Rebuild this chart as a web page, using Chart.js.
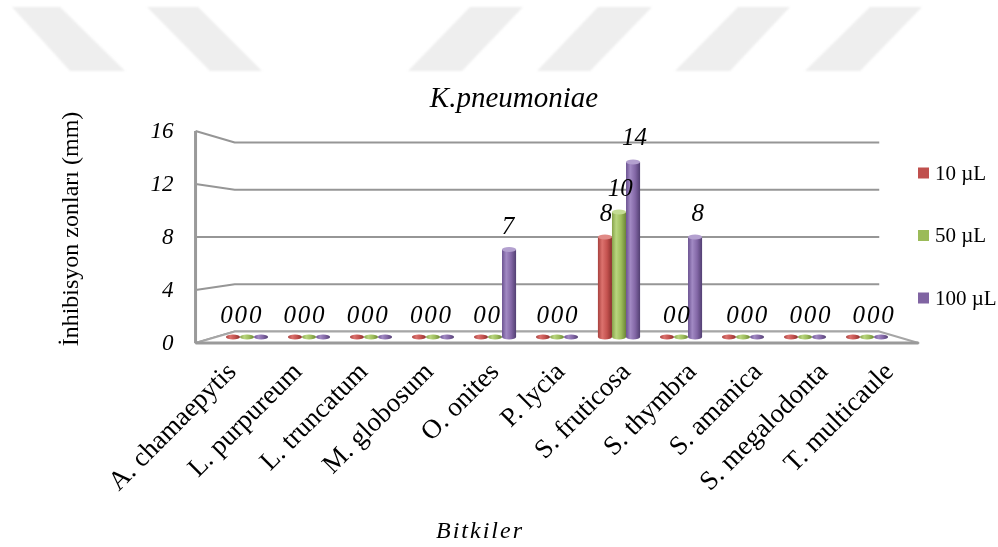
<!DOCTYPE html>
<html>
<head>
<meta charset="utf-8">
<script src="https://cdn.jsdelivr.net/npm/chart.js@4/dist/chart.umd.min.js"></script>
<style>
  html, body { margin: 0; padding: 0; background: #fff; }
  canvas { display: block; }
</style>
</head>
<body>
<canvas id="chart" width="998" height="547"></canvas>
<script>
// Plant extracts and inhibition zone diameters (mm) against K. pneumoniae
const categories = ['A. chamaepytis', 'L. purpureum', 'L. truncatum', 'M. globosum', 'O. onites',
  'P. lycia', 'S. fruticosa', 'S. thymbra', 'S. amanica', 'S. megalodonta', 'T. multicaule'];
const dose10 = [0, 0, 0, 0, 0, 0, 8, 0, 0, 0, 0];
const dose50 = [0, 0, 0, 0, 0, 0, 10, 0, 0, 0, 0];
const dose100 = [0, 0, 0, 0, 7, 0, 14, 8, 0, 0, 0];
const seriesNames = ['10 µL', '50 µL', '100 µL'];
const yTickStep = 4;
const yMax = 16;

const chartTitle = 'K.pneumoniae';
const yTitle = 'İnhibisyon zonları (mm)';
const xTitle = 'Bitkiler';

const SERIF = '"Liberation Serif", "Times New Roman", serif';
const COLORS = ['#c0504d', '#9bbb59', '#8064a2'];
// cylinder shading: [left edge, highlight, body, right edge, top cap]
const SHADES = [
  ['#a8403d', '#dc726e', '#c4524f', '#8a302d', '#e08a86'],
  ['#86a24a', '#b9d67f', '#9dbd5b', '#6b8536', '#c4dc94'],
  ['#6a5190', '#a28ac4', '#8367a6', '#523f72', '#b3a0cf']
];

// depth factors of the pseudo-3D box: front edge, back wall, value labels
const FRONT = 1.06, BACK = 0.945, LABEL_DEPTH = 1.02;

function project(area, x, y, f) {
  const cx = (area.left + area.right) / 2;
  const cy = (area.top + area.bottom) / 2;
  return [cx + (x - cx) * f, cy + (y - cy) * f];
}

function drawWatermark(ctx) {
  // faint diagonal band pattern across the top of the page
  const bands = [
    [12, 60, 70, 125], [147, 198, 210, 262],
    [470, 523, 408, 462], [598, 652, 537, 590],
    [738, 790, 675, 730], [870, 922, 805, 860]
  ];
  ctx.save();
  ctx.filter = 'blur(1px)';
  ctx.fillStyle = '#eeeeee';
  bands.forEach(([t0, t1, b0, b1]) => {
    ctx.beginPath();
    ctx.moveTo(t0, 7); ctx.lineTo(t1, 7); ctx.lineTo(b1, 71); ctx.lineTo(b0, 71);
    ctx.closePath(); ctx.fill();
  });
  ctx.restore();
}

const scenePlugin = {
  id: 'scene',
  beforeDraw(chart) {
    const { ctx, chartArea: a } = chart;
    const xs = chart.scales.x, ys = chart.scales.y;
    ctx.save();
    ctx.fillStyle = '#ffffff';
    ctx.fillRect(0, 0, chart.width, chart.height);
    drawWatermark(ctx);

    // side wall + back wall grid lines
    ctx.strokeStyle = '#969696';
    ctx.lineWidth = 2;
    ctx.lineJoin = 'round';
    ys.ticks.forEach(t => {
      const py = ys.getPixelForValue(t.value);
      const f0 = project(a, a.left, py, FRONT);
      const b0 = project(a, a.left, py, BACK);
      const b1 = project(a, a.right, py, BACK);
      ctx.beginPath();
      ctx.moveTo(f0[0], f0[1]); ctx.lineTo(b0[0], b0[1]); ctx.lineTo(b1[0], b1[1]);
      ctx.stroke();
    });

    // floor
    const y0 = ys.getPixelForValue(0);
    const fl = project(a, a.left, y0, FRONT), fr = project(a, a.right, y0, FRONT);
    const br = project(a, a.right, y0, BACK), bl = project(a, a.left, y0, BACK);
    ctx.beginPath();
    ctx.moveTo(fl[0], fl[1]); ctx.lineTo(fr[0], fr[1]); ctx.lineTo(br[0], br[1]); ctx.lineTo(bl[0], bl[1]);
    ctx.closePath();
    ctx.fillStyle = '#ffffff';
    ctx.fill();
    ctx.strokeStyle = '#a6a6a6';
    ctx.lineWidth = 2;
    ctx.stroke();
    ctx.beginPath();
    ctx.moveTo(fl[0], fl[1]); ctx.lineTo(fr[0], fr[1]);
    ctx.strokeStyle = '#9a9a9a';
    ctx.lineWidth = 3;
    ctx.stroke();

    // front vertical axis line
    const top = project(a, a.left, ys.getPixelForValue(ys.max), FRONT);
    ctx.beginPath();
    ctx.moveTo(top[0], top[1]); ctx.lineTo(fl[0], fl[1]);
    ctx.strokeStyle = '#9a9a9a';
    ctx.lineWidth = 3;
    ctx.stroke();

    // y tick labels
    ctx.fillStyle = '#000';
    ctx.font = 'italic 23px ' + SERIF;
    ctx.textAlign = 'right';
    ctx.textBaseline = 'middle';
    ys.ticks.forEach(t => {
      const p = project(a, a.left, ys.getPixelForValue(t.value), FRONT);
      ctx.fillText(String(t.value), p[0] - 22, p[1] + 1);
    });

    // category labels along the front edge
    ctx.font = '27px ' + SERIF;
    ctx.textAlign = 'right';
    ctx.textBaseline = 'alphabetic';
    chart.data.labels.forEach((lab, i) => {
      const p = project(a, xs.getPixelForValue(i), y0, FRONT);
      ctx.save();
      ctx.translate(p[0] + 9, p[1] + 30);
      ctx.rotate(-Math.PI / 4);
      ctx.fillText(lab, 0, 0);
      ctx.restore();
    });

    // chart title
    ctx.textAlign = 'center';
    ctx.font = 'italic 29px ' + SERIF;
    ctx.fillText(chartTitle, 514, 107);

    // y axis title
    ctx.save();
    ctx.translate(72, 229);
    ctx.rotate(-Math.PI / 2);
    ctx.font = '24px ' + SERIF;
    ctx.textBaseline = 'middle';
    ctx.fillText(yTitle, 0, 0);
    ctx.restore();

    // x axis title
    ctx.save();
    ctx.font = 'italic 24px ' + SERIF;
    ctx.letterSpacing = '2px';
    ctx.textAlign = 'center';
    ctx.fillText(xTitle, 480, 538);
    ctx.restore();

    // legend
    ctx.font = '21px ' + SERIF;
    ctx.textAlign = 'left';
    ctx.textBaseline = 'middle';
    chart.data.datasets.forEach((ds, i) => {
      const cy = 173 + i * 62.5;
      ctx.fillStyle = ds.backgroundColor;
      ctx.fillRect(918, cy - 5.5, 11, 11);
      ctx.fillStyle = '#000';
      ctx.fillText(ds.label, 935, cy + 1);
    });
    ctx.restore();
  },
  beforeDatasetDraw() {
    return false;
  },
  afterDatasetsDraw(chart) {
    const { ctx, chartArea: a } = chart;
    ctx.save();
    chart.data.datasets.forEach((ds, i) => {
      const meta = chart.getDatasetMeta(i);
      const sh = SHADES[i];
      meta.data.forEach((el, j) => {
        const w = el.width, l = el.x - w / 2, r = el.x + w / 2;
        const ry = 2.5;
        const g = ctx.createLinearGradient(l, 0, r, 0);
        g.addColorStop(0, sh[0]);
        g.addColorStop(0.3, sh[1]);
        g.addColorStop(0.65, sh[2]);
        g.addColorStop(1, sh[3]);
        if (ds.data[j] > 0) {
          ctx.fillStyle = g;
          ctx.beginPath();
          ctx.moveTo(l, el.y);
          ctx.lineTo(l, el.base);
          ctx.ellipse(el.x, el.base, w / 2, ry, 0, Math.PI, 0, true);
          ctx.lineTo(r, el.y);
          ctx.closePath();
          ctx.fill();
          ctx.beginPath();
          ctx.ellipse(el.x, el.y, w / 2, ry, 0, 0, Math.PI * 2);
          ctx.fillStyle = sh[4];
          ctx.fill();
        } else {
          ctx.beginPath();
          ctx.ellipse(el.x, el.base, w / 2, ry, 0, 0, Math.PI * 2);
          ctx.fillStyle = g;
          ctx.fill();
        }
      });
    });

    // value labels
    ctx.fillStyle = '#000';
    ctx.font = 'italic 25px ' + SERIF;
    ctx.textAlign = 'center';
    ctx.textBaseline = 'alphabetic';
    chart.data.datasets.forEach((ds, i) => {
      const meta = chart.getDatasetMeta(i);
      meta.data.forEach((el, j) => {
        const p = project(a, el.x, el.y, LABEL_DEPTH);
        ctx.fillText(String(ds.data[j]), p[0], p[1] - 16);
      });
    });
    ctx.restore();
  }
};

new Chart(document.getElementById('chart'), {
  type: 'bar',
  data: {
    labels: categories,
    datasets: [
      { label: seriesNames[0], data: dose10, backgroundColor: COLORS[0] },
      { label: seriesNames[1], data: dose50, backgroundColor: COLORS[1] },
      { label: seriesNames[2], data: dose100, backgroundColor: COLORS[2] }
    ]
  },
  options: {
    responsive: false,
    animation: false,
    devicePixelRatio: 1,
    layout: { padding: { left: 216, right: 100, top: 137, bottom: 210 } },
    datasets: { bar: { categoryPercentage: 0.68, barPercentage: 1 } },
    plugins: {
      legend: { display: false },
      title: { display: false },
      tooltip: { enabled: false }
    },
    scales: {
      x: { display: false, offset: true },
      y: { display: false, min: 0, max: yMax, ticks: { stepSize: yTickStep } }
    }
  },
  plugins: [scenePlugin]
});
</script>
</body>
</html>
